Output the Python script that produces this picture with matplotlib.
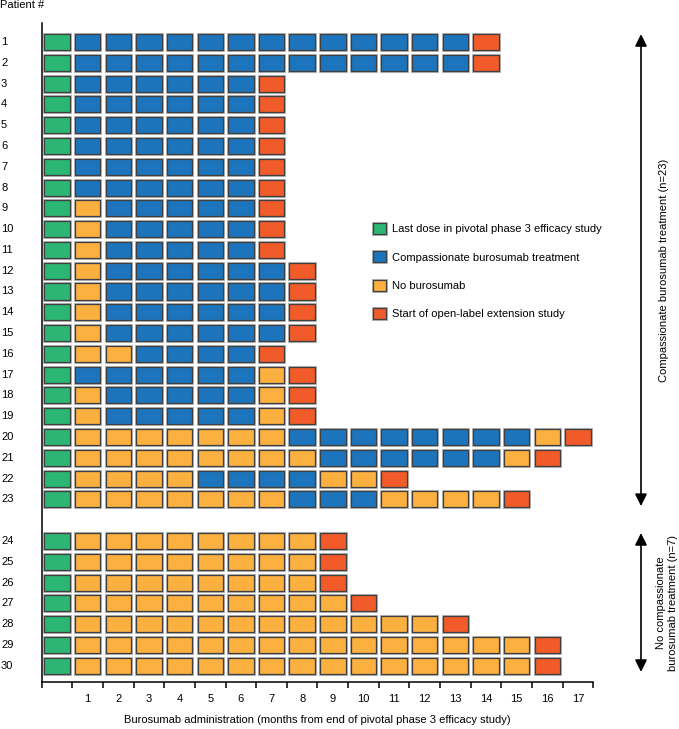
import matplotlib.pyplot as plt
import matplotlib.patheffects as pe
import matplotlib.transforms as mtransforms
from matplotlib.patches import Rectangle, Patch

plt.rcParams['font.family'] = ['Liberation Sans', 'DejaVu Sans']
plt.rcParams['font.size'] = 8

# Each patient's timeline as runs of (status, number of months)
# G = last pivotal dose, B = compassionate burosumab, Y = no burosumab, R = start of extension
patients = list(range(1, 31))
runs = [
    [("G", 1), ("B", 13), ("R", 1)],                      # 1
    [("G", 1), ("B", 13), ("R", 1)],                      # 2
    [("G", 1), ("B", 6), ("R", 1)],                       # 3
    [("G", 1), ("B", 6), ("R", 1)],                       # 4
    [("G", 1), ("B", 6), ("R", 1)],                       # 5
    [("G", 1), ("B", 6), ("R", 1)],                       # 6
    [("G", 1), ("B", 6), ("R", 1)],                       # 7
    [("G", 1), ("B", 6), ("R", 1)],                       # 8
    [("G", 1), ("Y", 1), ("B", 5), ("R", 1)],             # 9
    [("G", 1), ("Y", 1), ("B", 5), ("R", 1)],             # 10
    [("G", 1), ("Y", 1), ("B", 5), ("R", 1)],             # 11
    [("G", 1), ("Y", 1), ("B", 6), ("R", 1)],             # 12
    [("G", 1), ("Y", 1), ("B", 6), ("R", 1)],             # 13
    [("G", 1), ("Y", 1), ("B", 6), ("R", 1)],             # 14
    [("G", 1), ("Y", 1), ("B", 6), ("R", 1)],             # 15
    [("G", 1), ("Y", 2), ("B", 4), ("R", 1)],             # 16
    [("G", 1), ("B", 6), ("Y", 1), ("R", 1)],             # 17
    [("G", 1), ("Y", 1), ("B", 5), ("Y", 1), ("R", 1)],   # 18
    [("G", 1), ("Y", 1), ("B", 5), ("Y", 1), ("R", 1)],   # 19
    [("G", 1), ("Y", 7), ("B", 8), ("Y", 1), ("R", 1)],   # 20
    [("G", 1), ("Y", 8), ("B", 6), ("Y", 1), ("R", 1)],   # 21
    [("G", 1), ("Y", 4), ("B", 4), ("Y", 2), ("R", 1)],   # 22
    [("G", 1), ("Y", 7), ("B", 3), ("Y", 4), ("R", 1)],   # 23
    [("G", 1), ("Y", 8), ("R", 1)],                       # 24
    [("G", 1), ("Y", 8), ("R", 1)],                       # 25
    [("G", 1), ("Y", 8), ("R", 1)],                       # 26
    [("G", 1), ("Y", 9), ("R", 1)],                       # 27
    [("G", 1), ("Y", 12), ("R", 1)],                      # 28
    [("G", 1), ("Y", 15), ("R", 1)],                      # 29
    [("G", 1), ("Y", 15), ("R", 1)],                      # 30
]
months = list(range(1, 18))

colors = {"G": "#2bb673", "B": "#1c75bc", "Y": "#fbb040", "R": "#f15a29"}
legend_labels = {
    "G": "Last dose in pivotal phase 3 efficacy study",
    "B": "Compassionate burosumab treatment",
    "Y": "No burosumab",
    "R": "Start of open-label extension study",
}

W = 679
H = 729
fig = plt.figure(figsize=(W / 100, H / 100), dpi=100)
ax = fig.add_axes([41.7 / W, (H - 681.7) / H, 551.6 / W, 659 / H])

box_w = 0.83
box_h = 0.77
edge = "#3f3f3f"
outline = [pe.Stroke(linewidth=2.2, foreground="#b8b8b8"), pe.Normal()]

# label transform: x in figure fraction, y in data
trans = mtransforms.blended_transform_factory(fig.transFigure, ax.transData)

for pid, segs in zip(patients, runs):
    y = pid if pid <= 23 else pid + 1  # gap between the two groups
    col = 0
    for code, n in segs:
        for _ in range(n):
            r = Rectangle((col - box_w / 2, y - box_h / 2), box_w, box_h,
                          facecolor=colors[code], edgecolor=edge, lw=0.9)
            r.set_path_effects(outline)
            ax.add_patch(r)
            col += 1
    ax.text(1 / W, y, str(pid), transform=trans, ha="left", va="center")

ax.set_xlim(-0.5, 17.5)
ax.set_ylim(31.77, 0.07)

for s in ["top", "right"]:
    ax.spines[s].set_visible(False)
for s in ["left", "bottom"]:
    ax.spines[s].set_linewidth(1.1)
    ax.spines[s].set_color("black")

ax.set_yticks([])
ax.set_xticks([m - 0.5 for m in range(19)])
ax.set_xticklabels([])
ax.tick_params(axis="x", which="major", length=4, width=1.1, direction="out")
ax.set_xticks(months, minor=True)
ax.set_xticklabels(months, minor=True)
ax.tick_params(axis="x", which="minor", length=0, pad=8.5)

ax.set_xlabel("Burosumab administration (months from end of pivotal phase 3 efficacy study)")
ax.xaxis.set_label_coords(0.5, -0.051)

fig.text(0.0, 1 - 5 / H, "Patient #", ha="left", va="center")

handles = [Patch(facecolor=colors[k], edgecolor=edge, lw=0.9, path_effects=outline)
           for k in legend_labels]
ax.legend(handles, list(legend_labels.values()), loc="upper left",
          bbox_to_anchor=(373 / W, 1 - 223 / H), bbox_transform=fig.transFigure,
          frameon=False, handlelength=1.2, handleheight=1.15, labelspacing=1.53,
          handletextpad=0.55, borderpad=0, borderaxespad=0, fontsize=8)

# group arrows and labels on the right
arrow = dict(arrowstyle="<|-|>,head_length=0.9,head_width=0.45", color="black",
             lw=1.2, shrinkA=0, shrinkB=0)
ax.annotate("", xy=(641 / W, 0.62), xycoords=("figure fraction", "data"),
            xytext=(641 / W, 23.32), textcoords=("figure fraction", "data"),
            arrowprops=arrow)
ax.annotate("", xy=(641 / W, 24.62), xycoords=("figure fraction", "data"),
            xytext=(641 / W, 31.3), textcoords=("figure fraction", "data"),
            arrowprops=arrow)
ax.text(664 / W, 11.97, "Compassionate burosumab treatment (n=23)", transform=trans,
        rotation=90, ha="center", va="center")
ax.text(667 / W, 27.98, "No compassionate\nburosumab treatment (n=7)", transform=trans,
        rotation=90, ha="center", va="center", multialignment="center", linespacing=1.25)

fig.savefig("out.png", dpi=100)
